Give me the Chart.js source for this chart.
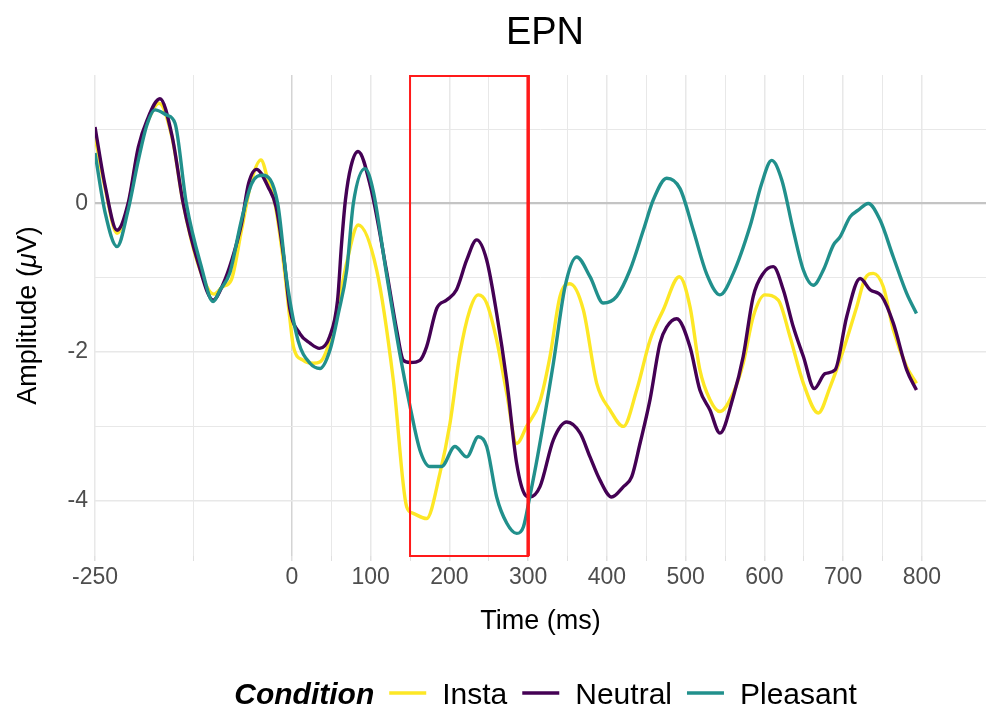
<!DOCTYPE html>
<html>
<head>
<meta charset="utf-8">
<script src="https://cdn.jsdelivr.net/npm/chart.js@4"></script>
<style>
  html, body { margin: 0; padding: 0; background: #ffffff; }
  canvas { display: block; }
</style>
</head>
<body>
<canvas id="erp" width="986" height="711"></canvas>
<script>
// ERP waveforms, time in ms and amplitude in microvolts
const instaTime = [-250, -237, -222, -208, -195, -184, -168.7, -152, -138, -119, -99, -88, -77, -64, -51, -39.3, -30, -21.5, -10, -2.4, 2, 14.5, 27, 36, 48.4, 61, 69.5, 84.3, 107.7, 128.8, 145.7, 154, 171, 188, 200.7, 213.4, 226, 236.7, 247.3, 260, 272.7, 285.4, 298, 315, 327.7, 340.4, 353, 370, 387, 404, 420.8, 437.8, 454.7, 471.6, 491.9, 505.5, 518, 530.8, 543.5, 560.4, 573, 585.8, 600.6, 617.6, 632.4, 649.4, 668.4, 683.3, 700.2, 717.2, 727.7, 738.2, 750.9, 763.6, 780.6, 793];
const instaAmp = [0.9, 0.2, -0.40, -0.03, 0.72, 1.08, 1.35, 0.88, 0.0, -0.82, -1.22, -1.12, -1.03, -0.36, 0.32, 0.585, 0.3, 0.0, -0.85, -1.57, -1.93, -2.11, -2.15, -2.13, -1.84, -1.25, -0.80, -0.29, -0.90, -2.38, -4.08, -4.17, -4.24, -3.63, -2.96, -2.02, -1.43, -1.23, -1.34, -1.84, -2.55, -3.23, -3.0, -2.66, -2.06, -1.25, -1.08, -1.43, -2.42, -2.78, -3.0, -2.51, -1.84, -1.43, -0.985, -1.39, -2.24, -2.64, -2.80, -2.55, -2.15, -1.52, -1.23, -1.30, -1.79, -2.42, -2.82, -2.47, -1.97, -1.39, -1.01, -0.94, -1.12, -1.70, -2.20, -2.42];

const neutralTime = [-250, -237, -222, -208, -195, -184, -167.5, -152, -138, -119, -100, -88, -76, -64, -55, -45, -30, -20, -10, -2.4, 10, 23, 35, 48, 58, 63, 68, 75, 84, 100, 120, 133, 141.5, 150, 162.6, 171, 184, 196.5, 209, 222, 234.6, 247.3, 260, 272.7, 285.4, 296, 302, 315, 332, 349, 366, 378.5, 391, 406, 421, 431.4, 442, 454.7, 467.4, 476, 488.6, 505.5, 518, 530.8, 543.5, 560.4, 573, 585.8, 598.5, 611.2, 623.9, 636.6, 649.4, 663.4, 677, 689.7, 704.5, 721.4, 734.1, 749, 763.6, 780.6, 793];
const neutralAmp = [1.03, 0.23, -0.36, 0.0, 0.76, 1.12, 1.41, 0.90, 0.0, -0.80, -1.30, -1.10, -0.75, -0.27, 0.27, 0.46, 0.22, -0.05, -0.75, -1.43, -1.75, -1.88, -1.95, -1.79, -1.30, -0.55, 0.05, 0.50, 0.70, 0.22, -0.90, -1.70, -2.11, -2.14, -2.11, -1.93, -1.41, -1.30, -1.16, -0.76, -0.49, -0.76, -1.48, -2.38, -3.50, -3.92, -3.95, -3.81, -3.18, -2.94, -3.09, -3.41, -3.72, -3.95, -3.81, -3.68, -3.23, -2.64, -1.88, -1.66, -1.55, -1.93, -2.51, -2.78, -3.09, -2.60, -2.06, -1.25, -0.94, -0.85, -1.16, -1.66, -2.06, -2.49, -2.29, -2.24, -1.52, -1.01, -1.16, -1.25, -1.61, -2.24, -2.51];

const pleasantTime = [-250, -237, -222, -208, -195, -184, -173.8, -159, -148.4, -134, -115, -100, -91, -79, -64, -51, -37, -18, -6.6, 8, 23, 35.7, 48.4, 59, 69.6, 78, 92.8, 103, 120, 137, 150, 162.6, 175.3, 190, 207, 222, 236.7, 247.3, 260, 272.7, 285.4, 294, 302, 312, 332, 346.8, 361.6, 378.5, 395.4, 412.4, 429.3, 446.2, 458.9, 475.9, 492.8, 509.7, 526.7, 543.5, 560.4, 581.6, 596.5, 609.2, 621.9, 636.6, 649.4, 662, 674.8, 687.5, 696, 708.7, 719, 731.8, 746.7, 763.6, 780.6, 793];
const pleasantAmp = [0.68, -0.13, -0.58, -0.09, 0.58, 1.06, 1.26, 1.19, 1.08, 0.0, -0.85, -1.32, -1.16, -0.94, -0.22, 0.27, 0.38, 0.0, -1.03, -1.85, -2.15, -2.22, -1.97, -1.48, -0.90, 0.0, 0.47, 0.18, -0.94, -2.02, -2.73, -3.32, -3.54, -3.54, -3.27, -3.41, -3.14, -3.27, -3.95, -4.30, -4.44, -4.35, -3.95, -3.40, -2.15, -1.12, -0.72, -0.985, -1.34, -1.25, -0.895, -0.36, 0.05, 0.34, 0.20, -0.36, -0.95, -1.23, -0.94, -0.31, 0.27, 0.58, 0.32, -0.36, -0.895, -1.10, -0.895, -0.56, -0.45, -0.18, -0.09, 0.0, -0.22, -0.72, -1.21, -1.48];

const conditions = ['Insta', 'Neutral', 'Pleasant'];
const colors = ['#FDE725', '#440154', '#21908C'];

// axis ticks: labelled values and the extra grid positions in between
const xLabels = [-250, 0, 100, 200, 300, 400, 500, 600, 700, 800];
const xMinor = [-125, 50, 150, 250, 350, 450, 550, 650, 750];
const yLabels = [-4, -2, 0];
const yMinor = [-3, -1, 1];

// EPN time window (ms)
const windowStart = 150;
const windowEnd = 300;

const FONT = '"Liberation Sans", Arial, sans-serif';

function pts(t, v) {
  return t.map((x, i) => ({ x: x, y: v[i] }));
}

const series = [pts(instaTime, instaAmp), pts(neutralTime, neutralAmp), pts(pleasantTime, pleasantAmp)];

const decorations = {
  id: 'decorations',
  afterDatasetsDraw(chart) {
    const { ctx, chartArea: a, scales: { x } } = chart;
    const x0 = x.getPixelForValue(windowStart);
    const x1 = x.getPixelForValue(windowEnd);
    ctx.save();
    ctx.strokeStyle = '#ff1a1a';
    ctx.lineWidth = 2;
    ctx.strokeRect(x0, a.top + 1, x1 - x0, a.bottom - a.top - 1);
    ctx.lineWidth = 3.5;
    ctx.beginPath();
    ctx.moveTo(x1, a.top);
    ctx.lineTo(x1, a.bottom);
    ctx.stroke();
    ctx.restore();
  },
  afterDraw(chart) {
    const { ctx, chartArea: a } = chart;
    ctx.save();

    // plot title
    ctx.fillStyle = '#000';
    ctx.font = '38px ' + FONT;
    ctx.textAlign = 'center';
    ctx.textBaseline = 'alphabetic';
    ctx.fillText('EPN', 545, 44);

    // y axis title with italic mu
    const parts = [['Amplitude (', ''], ['\u03bc', 'italic '], ['V)', '']];
    let total = 0;
    const widths = parts.map(p => {
      ctx.font = p[1] + '27px ' + FONT;
      const w = ctx.measureText(p[0]).width;
      total += w;
      return w;
    });
    ctx.translate(36, (a.top + a.bottom) / 2);
    ctx.rotate(-Math.PI / 2);
    ctx.textAlign = 'left';
    let px = -total / 2;
    parts.forEach((p, i) => {
      ctx.font = p[1] + '27px ' + FONT;
      ctx.fillText(p[0], px, 0);
      px += widths[i];
    });
    ctx.setTransform(1, 0, 0, 1, 0, 0);

    // legend along the bottom
    const baseY = 704;
    const keyLen = 37;
    ctx.textAlign = 'left';
    ctx.font = 'italic bold 30px ' + FONT;
    const wTitle = ctx.measureText('Condition').width;
    ctx.font = '30px ' + FONT;
    const wLab = conditions.map(c => ctx.measureText(c).width);
    let width = wTitle;
    wLab.forEach(w => { width += 15 + keyLen + 16 + w; });
    let lx = 545.5 - width / 2;
    ctx.font = 'italic bold 30px ' + FONT;
    ctx.fillText('Condition', lx, baseY);
    lx += wTitle;
    ctx.font = '30px ' + FONT;
    conditions.forEach((c, i) => {
      lx += 15;
      ctx.strokeStyle = colors[i];
      ctx.lineWidth = 3.4;
      ctx.beginPath();
      ctx.moveTo(lx, baseY - 11);
      ctx.lineTo(lx + keyLen, baseY - 11);
      ctx.stroke();
      lx += keyLen + 16;
      ctx.fillText(c, lx, baseY);
      lx += wLab[i];
    });
    ctx.restore();
  }
};

new Chart(document.getElementById('erp'), {
  type: 'line',
  data: {
    datasets: conditions.map((c, i) => ({
      label: c,
      data: series[i],
      borderColor: colors[i],
      borderWidth: 3.4,
      pointRadius: 0,
      fill: false,
      cubicInterpolationMode: 'monotone',
      order: 2 - i
    }))
  },
  options: {
    responsive: false,
    animation: false,
    events: [],
    layout: { padding: { top: 75, left: 0, right: 0, bottom: 60 } },
    plugins: {
      legend: { display: false },
      title: { display: false },
      tooltip: { enabled: false }
    },
    scales: {
      x: {
        type: 'linear',
        min: -250,
        max: 881.3,
        afterBuildTicks: (s) => {
          s.ticks = xLabels.concat(xMinor).sort((p, q) => p - q).map(v => ({ value: v }));
        },
        afterFit: (s) => { s.height = 95; },
        border: { display: false },
        grid: {
          color: (c) => (c.tick && c.tick.value === 0 ? '#d4d4d4' : '#e8e8e8'),
          lineWidth: (c) => (c.tick && xMinor.includes(c.tick.value) ? 1 : 1.5),
          tickLength: 5,
          tickColor: '#e0e0e0'
        },
        ticks: {
          autoSkip: false,
          maxRotation: 0,
          padding: 3,
          color: '#4d4d4d',
          font: { family: FONT, size: 23 },
          callback: (v) => (xLabels.includes(v) ? String(v) : '')
        },
        title: {
          display: true,
          text: 'Time (ms)',
          color: '#000',
          font: { family: FONT, size: 27 },
          padding: { top: 0, bottom: 13 }
        }
      },
      y: {
        type: 'linear',
        min: -4.744,
        max: 1.7295,
        afterBuildTicks: (s) => {
          s.ticks = yLabels.concat(yMinor).sort((p, q) => p - q).map(v => ({ value: v }));
        },
        afterFit: (s) => { s.width = 95; },
        border: { display: false },
        grid: {
          color: (c) => (c.tick && c.tick.value === 0 ? '#c4c4c4' : '#e8e8e8'),
          lineWidth: (c) => {
            if (!c.tick) return 1;
            if (c.tick.value === 0) return 2.2;
            return yMinor.includes(c.tick.value) ? 1 : 1.5;
          },
          drawTicks: false
        },
        ticks: {
          padding: 7,
          color: '#4d4d4d',
          font: { family: FONT, size: 23 },
          callback: (v) => (yLabels.includes(v) ? String(v) : '')
        }
      }
    }
  },
  plugins: [decorations]
});
</script>
</body>
</html>
